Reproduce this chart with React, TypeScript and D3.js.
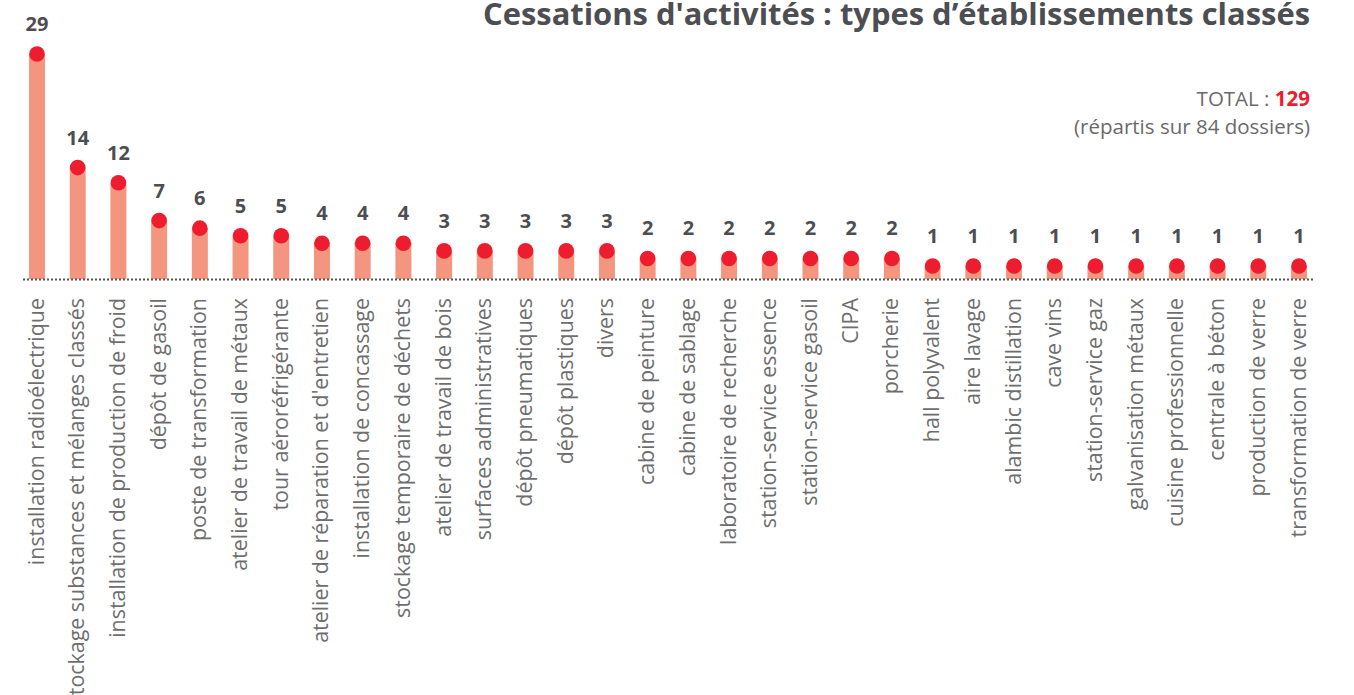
import { useEffect, useRef } from 'react';
import * as d3 from 'd3';

const categories = [
  'installation radioélectrique',
  'stockage substances et mélanges classés',
  'installation de production de froid',
  'dépôt de gasoil',
  'poste de transformation',
  'atelier de travail de métaux',
  'tour aéroréfrigérante',
  "atelier de réparation et d'entretien",
  'installation de concassage',
  'stockage temporaire de déchets',
  'atelier de travail de bois',
  'surfaces administratives',
  'dépôt pneumatiques',
  'dépôt plastiques',
  'divers',
  'cabine de peinture',
  'cabine de sablage',
  'laboratoire de recherche',
  'station-service essence',
  'station-service gasoil',
  'CIPA',
  'porcherie',
  'hall polyvalent',
  'aire lavage',
  'alambic distillation',
  'cave vins',
  'station-service gaz',
  'galvanisation métaux',
  'cuisine professionnelle',
  'centrale à béton',
  'production de verre',
  'transformation de verre',
];

const counts = [29, 14, 12, 7, 6, 5, 5, 4, 4, 4, 3, 3, 3, 3, 3, 2, 2, 2, 2, 2, 2, 2, 1, 1, 1, 1, 1, 1, 1, 1, 1, 1];

const title = "Cessations d'activités : types d’établissements classés";
const totalValue = 129;
const dossiers = 84;

export default function App() {
  const svgRef = useRef<SVGSVGElement>(null);

  useEffect(() => {
    const baseline = 279;
    const font = '"Open Sans", sans-serif';

    const svg = d3.select(svgRef.current);
    svg.selectAll('*').remove();

    const x = d3.scalePoint<string>()
      .domain(categories)
      .range([37, 1299]);

    const y = d3.scaleLinear()
      .domain([0, 29])
      .range([273.6, 54]);

    const data = categories.map((c, i) => ({ name: c, value: counts[i] }));

    // bars
    svg.append('g')
      .selectAll('rect')
      .data(data)
      .join('rect')
      .attr('x', d => x(d.name)! - 8)
      .attr('y', d => y(d.value))
      .attr('width', 16)
      .attr('height', d => baseline - y(d.value))
      .attr('fill', '#F4967F');

    // dotted baseline
    svg.append('line')
      .attr('x1', 23)
      .attr('x2', 1313)
      .attr('y1', baseline + 0.5)
      .attr('y2', baseline + 0.5)
      .attr('stroke', '#555')
      .attr('stroke-width', 2)
      .attr('stroke-dasharray', '2,2');

    // dots
    svg.append('g')
      .selectAll('circle')
      .data(data)
      .join('circle')
      .attr('cx', d => x(d.name)!)
      .attr('cy', d => y(d.value))
      .attr('r', 7.8)
      .attr('fill', '#ED1C2E');

    // value labels
    svg.append('g')
      .selectAll('text')
      .data(data)
      .join('text')
      .attr('x', d => x(d.name)!)
      .attr('y', d => y(d.value) - 23)
      .attr('text-anchor', 'middle')
      .attr('font-family', font)
      .attr('font-weight', 'bold')
      .attr('font-size', 20)
      .attr('fill', '#4D4E52')
      .text(d => d.value);

    // category labels
    svg.append('g')
      .selectAll('text')
      .data(data)
      .join('text')
      .attr('transform', d => `translate(${x(d.name)! + 6.5},298) rotate(-90)`)
      .attr('text-anchor', 'end')
      .attr('font-family', font)
      .attr('font-size', 21.4)
      .attr('fill', '#6E6E6E')
      .text(d => d.name);

    svg.append('text')
      .attr('x', 1310)
      .attr('y', 25)
      .attr('text-anchor', 'end')
      .attr('font-family', font)
      .attr('font-weight', 'bold')
      .attr('font-size', 30.9)
      .attr('fill', '#4D4E52')
      .text(title);

    const total = svg.append('text')
      .attr('x', 1310)
      .attr('y', 106)
      .attr('text-anchor', 'end')
      .attr('font-family', font)
      .attr('font-size', 20.5)
      .attr('fill', '#6A6A6A');
    total.append('tspan').text('TOTAL : ');
    total.append('tspan').attr('fill', '#ED1C2E').attr('font-weight', 'bold').text(totalValue);

    svg.append('text')
      .attr('x', 1310)
      .attr('y', 134)
      .attr('text-anchor', 'end')
      .attr('font-family', font)
      .attr('font-size', 20.5)
      .attr('fill', '#6A6A6A')
      .text(`(répartis sur ${dossiers} dossiers)`);
  }, []);

  return (
    <svg
      ref={svgRef}
      width={1354}
      height={695}
      style={{ position: 'absolute', left: 0, top: 0, background: '#fff' }}
    />
  );
}
